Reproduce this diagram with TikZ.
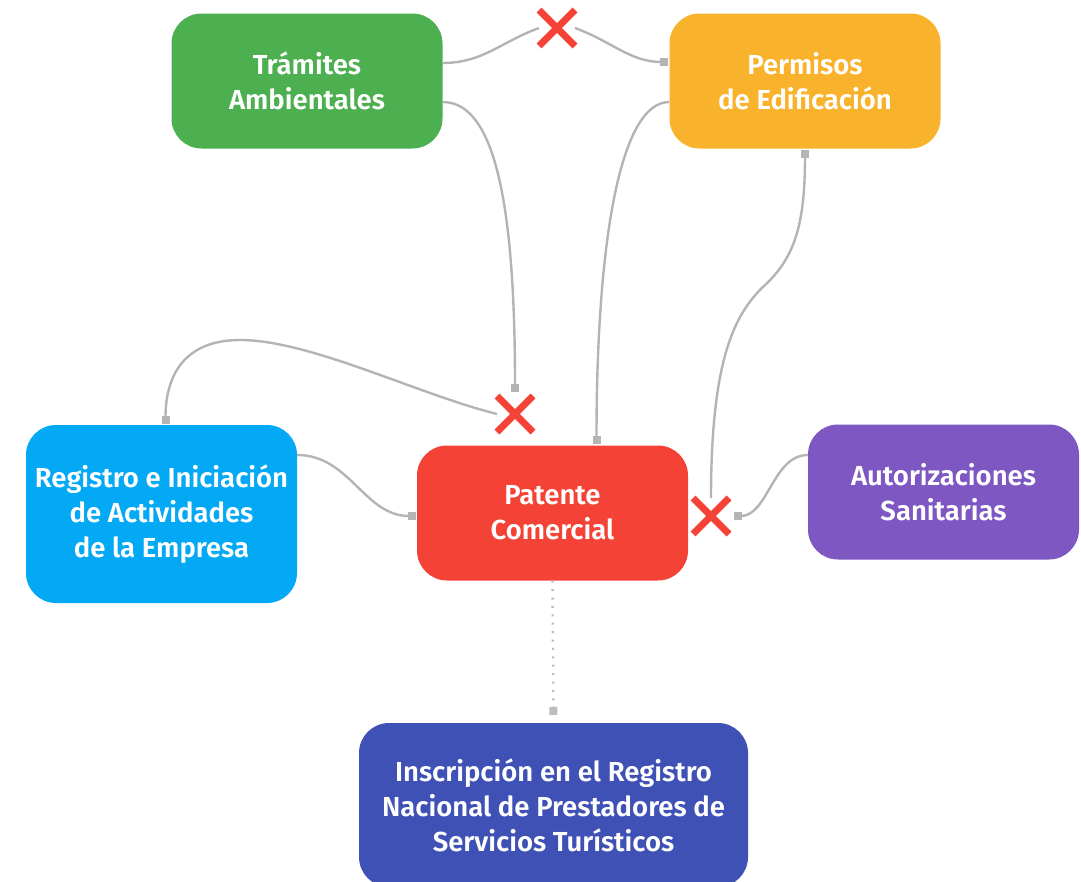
\documentclass[tikz,border=0pt]{standalone}
\usepackage{fontspec}
\setmainfont{Fira Sans}[BoldFont={Fira Sans SemiBold}]
\usetikzlibrary{arrows.meta,shapes.misc}
\definecolor{tramgreen}{HTML}{4CAF50}
\definecolor{permorange}{HTML}{F9B22B}
\definecolor{regblue}{HTML}{03A9F4}
\definecolor{patred}{HTML}{F44336}
\definecolor{autpurple}{HTML}{7E57C2}
\definecolor{inscindigo}{HTML}{3F51B5}
\definecolor{relgray}{HTML}{B4B4B4}
\definecolor{dotgray}{HTML}{BDBDBD}
\begin{document}
\begin{tikzpicture}[x=1pt,y=-1pt,
    box/.style={rounded corners=30pt,minimum width=271pt,minimum height=135pt,
      text=white,align=center,inner sep=0pt,
      font=\fontsize{27.5}{35}\selectfont\bfseries},
    nope/.style={cross out,draw=patred,line width=7pt,minimum size=29pt,inner sep=0pt},
    rel/.style={draw=relgray,line width=2.4pt},
    sq/.style={-{Square[length=8pt,width=8pt]},shorten >=1pt}]
  \useasboundingbox (0,0) rectangle (1081,881);
  \draw
    (307,81) node[box,fill=tramgreen] (tram) {Trámites\\Ambientales}
    (805,81) node[box,fill=permorange] (perm) {Permisos\\de Edificación}
    (161.5,514) node[box,fill=regblue,minimum height=178pt] (reg)
      {Registro e Iniciación\\de Actividades\\de la Empresa}
    (552.5,513) node[box,fill=patred] (pat) {Patente\\Comercial}
    (943.5,492) node[box,fill=autpurple] (aut) {Autorizaciones\\Sanitarias}
    (553.5,805) node[box,fill=inscindigo,minimum width=389pt,minimum height=164pt] (insc)
      {Inscripción en el Registro\\Nacional de Prestadores de\\Servicios Turísticos};
  \draw
    (557,28) node[nope] (x1){}
    (515,414) node[nope] (x2){}
    (711,516) node[nope] (x3){};
  \begin{scope}[rel]
    \draw ([yshift=18pt]tram.east) to[out=0,in=200] (x1.west);
    \draw[sq] (x1.east) to[out=-20,in=180] ([yshift=19pt]perm.west);
    \draw[sq,shorten >=4pt] ([yshift=-21pt]tram.east)
      .. controls +(55,0) and +(0,-180) .. (x2.north);
    \draw[sq] (x2.west) .. controls +(-80,-20) and +(70,0) .. (240,340)
      .. controls +(-55,0) and +(0,-50) .. ([xshift=4pt]reg.north);
    \draw[sq] ([yshift=-21pt]perm.west)
      .. controls +(-50,0) and +(0,-200) .. ([xshift=44pt]pat.north);
    \draw[sq] (x3.north) .. controls +(0,-140) and +(-30,28) .. (765,285)
      .. controls +(30,-28) and +(0,75) .. (perm.south);
    \draw[sq] ([yshift=37pt]aut.west)
      .. controls +(-35,0) and +(35,0) .. ([xshift=4pt]x3.east);
    \draw[sq] ([yshift=59pt]reg.east) to[out=0,in=180] ([yshift=-3pt]pat.west);
    \draw[sq,draw=dotgray,dash pattern=on 2pt off 6.4pt,shorten >=8pt]
      (pat.south) to (insc.north);
  \end{scope}
\end{tikzpicture}
\end{document}
